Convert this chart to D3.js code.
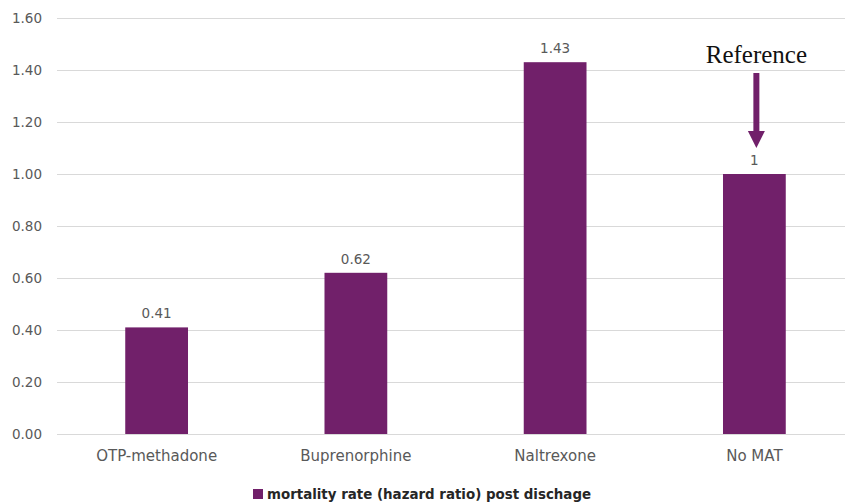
<!DOCTYPE html>
<html>
<head>
<meta charset="utf-8">
<script src="https://cdn.jsdelivr.net/npm/d3@7"></script>
<style>
  html, body { margin: 0; padding: 0; background: #ffffff; }
  svg { display: block; }
</style>
</head>
<body>
<svg id="chart" width="845" height="502"></svg>
<script>
// Mortality rate (hazard ratio) after discharge, by treatment type
const categories = ["OTP-methadone", "Buprenorphine", "Naltrexone", "No MAT"];
const values = [0.41, 0.62, 1.43, 1];
const valueLabels = ["0.41", "0.62", "1.43", "1"];
const yTicks = [0, 0.2, 0.4, 0.6, 0.8, 1.0, 1.2, 1.4, 1.6];
const seriesName = "mortality rate (hazard ratio) post dischage";
const annotation = { category: "No MAT", text: "Reference" };

const W = 845, H = 502;
const margin = { left: 57, right: -9, top: 18, bottom: 68 };
const barColor = "#71206a";
const labelColor = "#595959";
const font = "'DejaVu Sans', sans-serif";

const svg = d3.select("#chart");

const x = d3.scaleBand()
  .domain(categories)
  .range([margin.left, W - margin.right])
  .paddingInner(0.685)
  .paddingOuter(0.3425);

const y = d3.scaleLinear()
  .domain([0, 1.6])
  .range([H - margin.bottom, margin.top]);

// Horizontal gridlines
svg.append("g")
  .selectAll("line")
  .data(yTicks)
  .join("line")
  .attr("x1", margin.left)
  .attr("x2", W)
  .attr("y1", d => Math.round(y(d)) + 0.5)
  .attr("y2", d => Math.round(y(d)) + 0.5)
  .attr("stroke", "#d9d9d9")
  .attr("stroke-width", 1);

// Y axis labels
const yAxis = d3.axisLeft(y)
  .tickValues(yTicks)
  .tickFormat(d3.format(".2f"))
  .tickSize(0)
  .tickPadding(0);

const gy = svg.append("g")
  .attr("transform", `translate(42,0)`)
  .call(yAxis);
gy.select(".domain").remove();
gy.selectAll("text")
  .attr("font-family", font)
  .attr("font-size", 13.5)
  .attr("fill", labelColor);

// X axis labels
const xAxis = d3.axisBottom(x).tickSize(0).tickPadding(0);
const gx = svg.append("g")
  .attr("transform", `translate(0,${y(0) + 16.5})`)
  .call(xAxis);
gx.select(".domain").remove();
gx.selectAll("text")
  .attr("font-family", font)
  .attr("font-size", 15)
  .attr("fill", labelColor);

// Bars
svg.append("g")
  .selectAll("rect")
  .data(categories)
  .join("rect")
  .attr("x", d => x(d))
  .attr("width", x.bandwidth())
  .attr("y", (d, i) => y(values[i]))
  .attr("height", (d, i) => y(0) - y(values[i]))
  .attr("fill", barColor);

// Value labels
svg.append("g")
  .selectAll("text")
  .data(categories)
  .join("text")
  .attr("x", d => x(d) + x.bandwidth() / 2)
  .attr("y", (d, i) => y(values[i]) - 9)
  .attr("text-anchor", "middle")
  .attr("font-family", font)
  .attr("font-size", 13.5)
  .attr("fill", labelColor)
  .text((d, i) => valueLabels[i]);

// "Reference" annotation with downward arrow
const ax = x(annotation.category) + x.bandwidth() / 2 + 2;
svg.append("text")
  .attr("x", ax)
  .attr("y", 63)
  .attr("text-anchor", "middle")
  .attr("font-family", "'Liberation Serif', 'DejaVu Serif', serif")
  .attr("font-size", 25)
  .attr("fill", "#111111")
  .text(annotation.text);

const shaftTop = 73, headTop = 131, tip = 148;
svg.append("rect")
  .attr("x", ax - 3)
  .attr("y", shaftTop)
  .attr("width", 6)
  .attr("height", headTop - shaftTop + 1)
  .attr("fill", barColor);
svg.append("path")
  .attr("d", `M${ax - 8.5},${headTop} L${ax + 8.5},${headTop} L${ax},${tip} Z`)
  .attr("fill", barColor);

// Legend
const legend = svg.append("g").attr("transform", "translate(253,489)");
legend.append("rect")
  .attr("width", 10)
  .attr("height", 10)
  .attr("fill", barColor);
legend.append("text")
  .attr("x", 14)
  .attr("y", 9.5)
  .attr("font-family", font)
  .attr("font-size", 13.4)
  .attr("font-weight", "bold")
  .attr("fill", "#262626")
  .text(seriesName);
</script>
</body>
</html>
